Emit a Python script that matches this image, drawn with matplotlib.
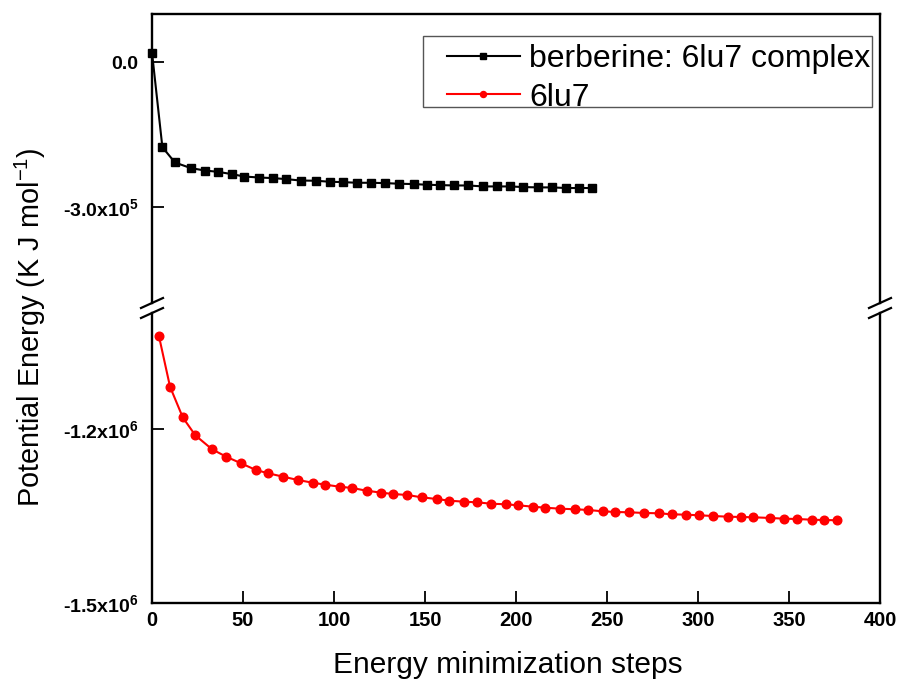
import matplotlib
matplotlib.use("Agg")
import matplotlib.pyplot as plt
from matplotlib.lines import Line2D
from matplotlib.patches import Rectangle
from matplotlib.ticker import FixedLocator, FixedFormatter

plt.rcParams['font.family'] = ['Liberation Sans', 'DejaVu Sans']
plt.rcParams['mathtext.fontset'] = 'custom'
plt.rcParams['mathtext.rm'] = 'Liberation Sans'
plt.rcParams['mathtext.bf'] = 'Liberation Sans:bold'
plt.rcParams['mathtext.it'] = 'Liberation Sans:italic'

# ---- data ----
complex_steps = [0, 5.7, 12.6, 21.3, 29.1, 36.1, 43.8, 50.7, 58.9, 66.6, 73.6, 81.7,
                 90.1, 97.8, 104.8, 112.5, 120.2, 128, 135.9, 144, 150.9, 158.2,
                 165.9, 173.8, 182, 189.7, 196.7, 204, 212.3, 220, 227.5, 234.8, 242]
complex_energy = [2.0e4, -1.765e5, -2.083e5, -2.199e5, -2.25e5, -2.276e5, -2.324e5,
                  -2.374e5, -2.395e5, -2.407e5, -2.428e5, -2.457e5, -2.462e5, -2.483e5,
                  -2.49e5, -2.504e5, -2.504e5, -2.511e5, -2.524e5, -2.531e5, -2.545e5,
                  -2.552e5, -2.56e5, -2.56e5, -2.58e5, -2.58e5, -2.58e5, -2.593e5,
                  -2.6e5, -2.6e5, -2.613e5, -2.613e5, -2.613e5]

protein_steps = [3.8, 9.9, 16.9, 23.8, 33, 40.8, 48.9, 57.1, 63.9, 72, 80.1, 88.3,
                 95.2, 103.1, 110, 117.9, 126, 132.6, 140.3, 148.2, 156.4, 163.4,
                 171.4, 178.4, 186.4, 194.3, 200.9, 209.2, 216.1, 224.2, 232.6, 239.6,
                 247.6, 254.6, 262.3, 270.5, 278.4, 285.7, 293.4, 300.7, 308.4, 316.5,
                 323.6, 330.4, 339.6, 347.4, 354.6, 362.6, 369.4, 376.5]
protein_energy = [-1.0397e6, -1.127e6, -1.18e6, -1.2109e6, -1.235e6, -1.2478e6,
                  -1.2591e6, -1.2707e6, -1.2764e6, -1.2822e6, -1.2879e6, -1.2926e6,
                  -1.296e6, -1.2995e6, -1.3017e6, -1.3064e6, -1.3098e6, -1.3121e6,
                  -1.3138e6, -1.3178e6, -1.3207e6, -1.3236e6, -1.3253e6, -1.3264e6,
                  -1.3288e6, -1.3298e6, -1.3315e6, -1.3339e6, -1.3357e6, -1.3374e6,
                  -1.3384e6, -1.3396e6, -1.3419e6, -1.3431e6, -1.3436e6, -1.3448e6,
                  -1.3453e6, -1.3471e6, -1.3477e6, -1.3488e6, -1.35e6, -1.3512e6,
                  -1.3517e6, -1.3522e6, -1.3534e6, -1.3546e6, -1.3552e6, -1.3564e6,
                  -1.3569e6, -1.3574e6]

x_ticks = [0, 50, 100, 150, 200, 250, 300, 350, 400]
top_yticks = [0.0, -3.0e5]
top_ylabels = ['0.0', r'-3.0x10$^{\mathregular{5}}$']
bot_yticks = [-1.2e6, -1.5e6]
bot_ylabels = [r'-1.2x10$^{\mathregular{6}}$', r'-1.5x10$^{\mathregular{6}}$']
series_labels = ['berberine: 6lu7 complex', '6lu7']

# ---- layout ----
W, H = 902, 682
fig = plt.figure(figsize=(W / 100, H / 100), dpi=100)
L, R = 152, 880
top_t, top_b = 14, 303
bot_t, bot_b = 313, 603

ax_top = fig.add_axes([L / W, 1 - top_b / H, (R - L) / W, (top_b - top_t) / H])
ax_bot = fig.add_axes([L / W, 1 - bot_b / H, (R - L) / W, (bot_b - bot_t) / H])

l1, = ax_top.plot(complex_steps, complex_energy, color='black', lw=1.5,
                  marker='s', markersize=6, label=series_labels[0], clip_on=False)
l2, = ax_bot.plot(protein_steps, protein_energy, color='red', lw=1.5,
                  marker='o', markersize=6.2, label=series_labels[1])

ax_top.set_ylim(-5e5, 1e5)
ax_bot.set_ylim(-1.5e6, -1.0e6)
for ax in (ax_top, ax_bot):
    ax.set_xlim(0, 400)
    for s in ax.spines.values():
        s.set_linewidth(1.7)
    ax.tick_params(direction='in', length=8.5, width=1.3, pad=10)
    ax.tick_params(axis='y', labelsize=14)
    ax.tick_params(axis='x', pad=6, labelsize=14.5)

ax_top.spines['bottom'].set_visible(False)
ax_bot.spines['top'].set_visible(False)
ax_top.tick_params(axis='x', bottom=False, labelbottom=False)

ax_top.yaxis.set_major_locator(FixedLocator(top_yticks))
ax_top.yaxis.set_major_formatter(FixedFormatter(top_ylabels))
ax_bot.yaxis.set_major_locator(FixedLocator(bot_yticks))
ax_bot.yaxis.set_major_formatter(FixedFormatter(bot_ylabels))
ax_bot.set_xticks(x_ticks)

for ax in (ax_top, ax_bot):
    for lab in ax.get_yticklabels() + ax.get_xticklabels():
        lab.set_fontweight('bold')

fig.text(508 / W, 1 - 665 / H, 'Energy minimization steps',
         ha='center', va='center', fontsize=21.5)
fig.text(30 / W, 1 - 327 / H, r'Potential Energy (K J mol$^{\mathregular{-1}}$)',
         rotation=90, ha='center', va='center', fontsize=20.8)

# break marks
for xp in (L, R):
    for yp in (top_b, bot_t):
        fig.add_artist(Line2D([(xp - 11) / W, (xp + 11) / W],
                              [1 - (yp + 5) / H, 1 - (yp - 5) / H],
                              color='black', lw=1.6, transform=fig.transFigure))

# legend frame
fig.add_artist(Rectangle((423 / W, 1 - 107 / H), (872 - 423) / W, (107 - 36) / H,
                         transform=fig.transFigure, facecolor='white',
                         edgecolor='#555555', lw=1.0, zorder=5))
leg = fig.legend(handles=[l1, l2], loc='upper left',
                 bbox_to_anchor=(447 / W, 1 - 44 / H), bbox_transform=fig.transFigure,
                 fontsize=23, frameon=False, handlelength=2.28, handletextpad=0.3,
                 labelspacing=0.27, borderpad=0, borderaxespad=0, markerscale=0.7)
leg.set_zorder(6)

fig.savefig('out.png', dpi=100)
